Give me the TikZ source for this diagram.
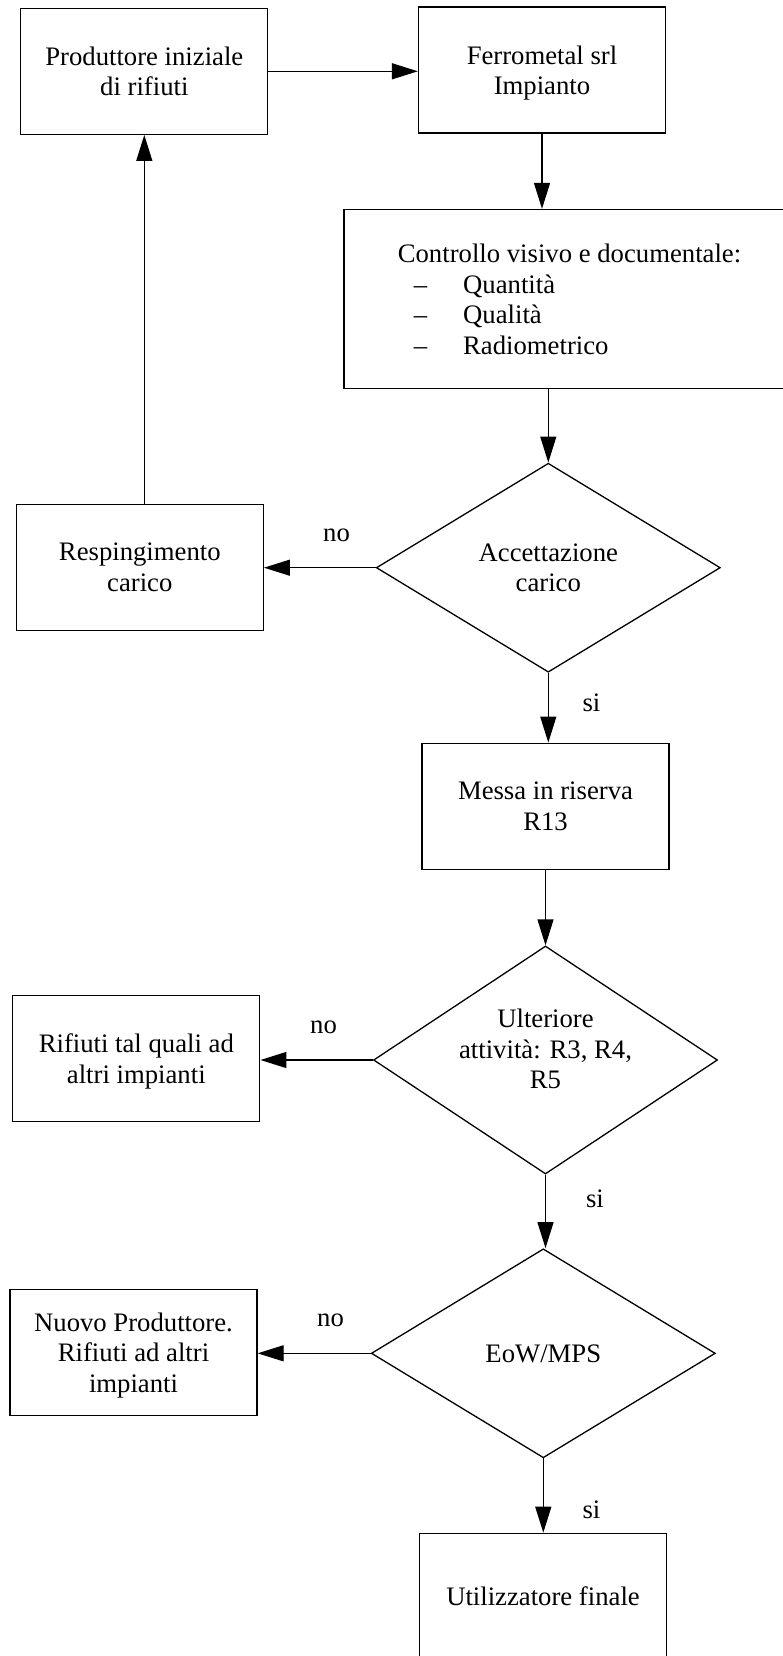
\documentclass[tikz,border=0pt]{standalone}
\usepackage{fontspec}
\setmainfont{Liberation Serif}
\usepackage{tikz}
\usetikzlibrary{arrows.meta,shapes.geometric,positioning}
\tikzset{
  txt/.style={font=\fontsize{26.7}{30.5}\selectfont},
  stepbox/.style={txt,draw,line width=1.3pt,align=center,minimum width=247pt,minimum height=126pt,inner sep=0pt,text depth=-3pt},
  decision/.style={txt,draw,line width=1.3pt,shape=diamond,aspect=1.64,align=center,minimum width=344pt,minimum height=209pt,inner sep=0pt,text depth=-4pt},
  flow/.style={-{Triangle[length=26pt,width=16pt]},line width=1.3pt},
  lbl/.style={txt,inner sep=0pt}
}

\begin{document}
\begin{tikzpicture}[x=1pt,y=-1pt]
  \useasboundingbox (0,0) rectangle (783,1656);
  \fill[white] (0,0) rectangle (783,1656);
  \node[stepbox] (prod) at (144.3,71.3) {Produttore iniziale\\di rifiuti};
  \node[stepbox] (ferro) at (542,70) {Ferrometal srl\\Impianto};
  \node[stepbox,minimum width=451pt,minimum height=179pt,align=left] (ctrl) at (569.5,299)
  {Controllo visivo e documentale:\\
   \hspace*{16pt}--\hspace*{36pt}Quantità\\
   \hspace*{16pt}--\hspace*{36pt}Qualità\\
   \hspace*{16pt}--\hspace*{36pt}Radiometrico};
  \node[decision] (acc) at (548.3,567.7) {Accettazione\\carico};
  \node[stepbox] (resp) at (139.8,567.3) {Respingimento\\carico};
  \node[stepbox] (riserva) at (545.5,806.2) {Messa in riserva\\R13};
  \node[decision,minimum height=228pt,text depth=22pt] (ult) at (545.5,1060) {Ulteriore\\attività: R3, R4,\\R5};
  \node[stepbox] (talq) at (136.3,1058.5) {Rifiuti tal quali ad\\altri impianti};
  \node[decision] (eow) at (543.3,1353.3) {EoW/MPS};
  \node[stepbox] (nuovo) at (133.5,1352.5) {Nuovo Produttore.\\Rifiuti ad altri\\impianti};
  \node[stepbox] (util) at (543,1596.3) {Utilizzatore finale};
  \node[lbl] (no1) at (336.5,535) {no};
  \node[lbl] (si1) at (591.5,702.7) {si};
  \node[lbl] (no2) at (323.5,1027.7) {no};
  \node[lbl] (si2) at (595,1198.3) {si};
  \node[lbl] (no3) at (330.5,1320) {no};
  \node[lbl] (si3) at (591.5,1510) {si};
  \draw[flow] (prod.east) -- (prod.east -| ferro.west);
  \draw[flow] (ferro.south) -- (ferro.south |- ctrl.north);
  \draw[flow] (acc.north |- ctrl.south) -- (acc.north);
  \draw[flow] (acc.west) -- (acc.west -| resp.east);
  \draw[flow] (prod.south |- resp.north) -- (prod.south);
  \draw[flow] (acc.south) -- (acc.south |- riserva.north);
  \draw[flow] (riserva.south) -- (ult.north);
  \draw[flow] (ult.west) -- (ult.west -| talq.east);
  \draw[flow] (ult.south) -- (ult.south |- eow.north);
  \draw[flow] (eow.west) -- (eow.west -| nuovo.east);
  \draw[flow] (eow.south) -- (eow.south |- util.north);
\end{tikzpicture}
\end{document}
